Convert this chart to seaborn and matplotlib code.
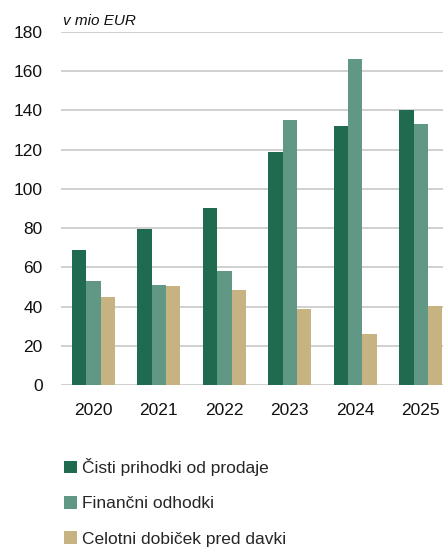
import seaborn as sns
import numpy as np
import matplotlib.pyplot as plt
import pandas as pd

years = ['2020', '2021', '2022', '2023', '2024', '2025']
series = ['Čisti prihodki od prodaje', 'Finančni odhodki', 'Celotni dobiček pred davki']
prihodki = [69, 79.5, 90.5, 119, 132, 140]
odhodki = [53, 51, 58, 135, 166, 133]
dobicek = [45, 50.5, 48.5, 39, 26, 40.5]
colors = ['#206B4F', '#609785', '#C7B381']

df = pd.DataFrame({
    'leto': years * 3,
    'vrsta': [series[0]] * 6 + [series[1]] * 6 + [series[2]] * 6,
    'vrednost': prihodki + odhodki + dobicek,
})

sns.set_style('white')
plt.rcParams['font.family'] = ['Liberation Sans', 'DejaVu Sans']

fig = plt.figure(figsize=(4.43, 5.47), dpi=100)
ax = fig.add_axes([60.7 / 443, 1 - 385 / 547, 1 - 60.7 / 443, 353 / 547])

sns.barplot(data=df, x='leto', y='vrednost', hue='vrsta', palette=colors,
            width=0.656, saturation=1, linewidth=0, ax=ax, legend=True)

ax.set_ylim(0, 180)
ax.set_xlim(-0.5, 5.34)
ax.set_yticks(np.arange(0, 181, 20))
ax.yaxis.grid(True, color='#c4c4c4', linewidth=1.1)
ax.set_axisbelow(True)
for s in ax.spines.values():
    s.set_visible(False)
ax.tick_params(axis='y', length=0, pad=13, labelsize=12.5, colors='#111111')
ax.tick_params(axis='x', length=0, pad=13, labelsize=12.5, colors='#111111')
ax.set_xlabel('')
ax.set_ylabel('')

ax.text(63 / 443, 1 - 21 / 547, 'v mio EUR', transform=fig.transFigure,
        fontsize=11, fontstyle='italic', va='center', ha='left', color='#111111')

handles, labels = ax.get_legend_handles_labels()
ax.legend(handles, labels, loc='upper left', bbox_to_anchor=(64 / 443, 1 - 458 / 547),
          bbox_transform=fig.transFigure, frameon=False, fontsize=12.5,
          handlelength=0.75, handleheight=0.75, handletextpad=0.3,
          labelspacing=1.15, borderpad=0, borderaxespad=0)

fig.savefig('out.png', dpi=100)
